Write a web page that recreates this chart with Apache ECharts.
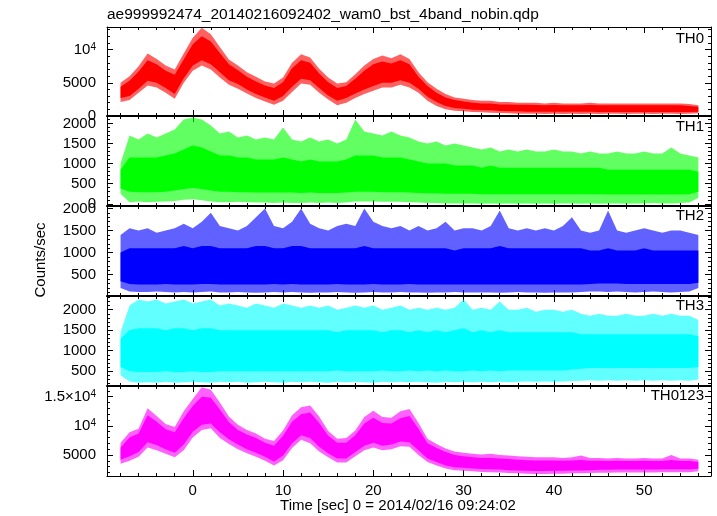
<!DOCTYPE html>
<html><head><meta charset="utf-8">
<script src="https://cdn.jsdelivr.net/npm/echarts@6/dist/echarts.min.js"></script>
<style>html,body{margin:0;padding:0;background:#fff}#c{width:717px;height:516px}</style>
</head><body><div id="c"></div>
<script>
// ---- data (envelope of the light curves, 1 s steps) ----
const times = [-8,-7,-6,-5,-4,-3,-2,-1,0,1, 2,3,4,5,6,7,8,9,10,11, 12,13,14,15,16,17,18,19,20,21,
  22,23,24,25,26,27,28,29,30,31, 32,33,34,35,36,37,38,39,40,41, 42,43,44,45,46,47,48,49,50,51, 52,53,54,55,56];
const panelNames = ['TH0','TH1','TH2','TH3','TH0123'];

const th0Hi = [5000,6000,7500,9400,8600,7600,7000,9400,11800,13300, 12300,10400,8500,7600,6600,5900,5200,4900,5800,8000,
  9300,8800,7100,5800,4900,5100,6300,7600,8600,9100, 8700,9300,8600,6600,5100,4100,3300,2800,2600,2400,
  2300,2300,2100,2100,2000,2000,2000,1900,2000,1900, 1900,1900,2000,1900,1900,1900,1900,1900,1900,1900, 1900,1900,1900,1800,1600];
const th0CoreHi = [4400,5300,6700,8400,7800,6800,6200,8500,10800,12000, 11200,9500,7800,6900,5900,5200,4600,4200,5100,7200,
  8400,8000,6400,5100,4200,4500,5600,6800,7800,8200, 7900,8400,7800,5900,4500,3500,2800,2400,2200,2000,
  1900,1900,1750,1750,1700,1700,1650,1600,1650,1600, 1600,1600,1650,1600,1600,1600,1600,1600,1600,1600, 1600,1600,1600,1500,1400];
const th0CoreLo = [2700,3000,4100,5300,5000,4200,3300,5700,7600,8400, 7800,6600,5400,4800,4000,3300,2800,2300,3000,4400,
  5600,5400,4200,3100,2300,2700,3400,4000,4500,5000, 5000,5400,5000,4100,2900,2100,1500,1200,1100,950,
  900,850,750,700,700,650,650,650,650,650, 650,650,650,600,600,600,600,600,600,600, 600,600,600,600,650];
const th0Lo = [2100,2400,3500,4600,4300,3500,2600,5000,6800,7600, 7000,5800,4700,4100,3400,2700,2200,1700,2300,3600,
  4900,4700,3500,2500,1600,2000,2700,3300,3800,4300, 4300,4700,4300,3500,2300,1500,1000,800,700,600,
  550,500,450,400,350,350,350,300,350,300, 350,300,350,300,350,350,300,350,350,300, 350,350,300,350,400];

const th1Hi = [1000,1700,1600,1750,1650,1750,1850,2100,2150,2100, 1950,1750,1800,1650,1700,1600,1650,1600,1900,1600,
  1550,1650,1550,1600,1500,1600,2100,1800,1750,1700, 1800,1700,1650,1550,1500,1550,1450,1500,1450,1400,
  1350,1400,1300,1350,1300,1350,1300,1300,1350,1300, 1300,1250,1300,1250,1250,1300,1250,1250,1300,1250, 1250,1400,1250,1200,1150];
const th1CoreHi = [850,1150,1150,1150,1150,1200,1250,1350,1450,1400, 1300,1200,1200,1150,1150,1100,1100,1100,1150,1100,
  1050,1100,1050,1050,1050,1100,1200,1200,1200,1150, 1150,1150,1100,1050,1000,1000,1000,950,950,950,
  900,950,900,900,900,900,900,900,900,900, 900,900,900,900,850,850,850,850,850,850, 850,850,850,850,800];
const th1CoreLo = [380,300,290,290,290,300,330,370,390,370, 330,300,300,290,290,280,280,280,280,280,
  270,280,270,270,270,280,300,300,300,290, 290,290,280,270,260,260,250,250,250,250,
  240,240,240,240,240,240,240,240,240,240, 240,240,240,240,230,230,230,230,230,230, 230,230,230,240,300];
const th1Lo = [250,40,60,40,50,60,70,100,110,90, 60,40,40,50,40,30,30,20,30,20,
  20,30,20,30,20,30,60,60,60,50, 50,50,40,30,20,20,10,10,10,10,
  0,10,0,10,0,10,0,10,0,10, 10,0,10,0,10,10,0,10,10,20, 10,10,20,30,150];

const th2Hi = [1400,1550,1500,1550,1450,1500,1550,1650,1550,1700, 1900,1600,1550,1500,1600,1800,2000,1600,1550,1700,
  2000,1650,1550,1500,1600,1650,1600,2000,1700,1600, 1550,1600,1500,1600,1500,1550,1700,1500,1550,1550,
  1500,1600,1950,1550,1500,1550,1500,1550,1500,1600, 1800,1500,1450,1500,1950,1500,1450,1500,1550,1500, 1450,1500,1500,1450,1400];
const th2CoreHi = [1000,1100,1100,1100,1100,1100,1100,1150,1100,1150, 1150,1100,1100,1100,1100,1150,1150,1100,1100,1150,
  1150,1100,1100,1100,1100,1100,1100,1150,1100,1100, 1100,1100,1100,1100,1100,1100,1100,1050,1100,1100,
  1100,1100,1150,1100,1100,1100,1100,1100,1100,1100, 1100,1100,1050,1050,1100,1050,1050,1050,1100,1050, 1050,1050,1050,1050,1050];
const th2CoreLo = [350,290,280,280,280,290,280,280,280,290, 290,280,280,280,280,280,280,290,280,290,
  280,280,280,280,290,280,280,280,290,280, 280,280,290,280,280,280,280,280,280,280,
  280,280,280,280,280,280,280,280,280,280, 280,280,290,300,300,300,290,290,290,290, 290,290,290,290,320];
const th2Lo = [200,120,110,110,120,110,100,110,100,110, 120,100,100,110,100,90,100,110,100,110,
  100,90,100,100,110,100,90,100,110,100, 100,110,100,100,90,100,100,110,100,100,
  100,100,90,100,110,100,100,90,100,100, 100,110,120,120,110,120,110,100,110,120, 110,100,110,120,200];

const th3Hi = [1450,2100,2250,2200,2250,2150,2200,2250,2150,2200, 2250,2100,2150,2100,2050,2150,2100,2050,2150,2100,
  2050,2100,2050,2100,2000,2050,2100,2050,2100,2000, 2050,2100,2000,2050,2000,2050,2000,2050,2250,2000,
  2050,2000,2200,2000,2000,2050,1950,2000,2000,1950, 2000,1900,1850,1900,1850,1850,1900,1850,1850,1900, 1850,1900,1850,1850,1750];
const th3CoreHi = [1300,1500,1550,1550,1550,1500,1550,1550,1500,1550, 1550,1500,1500,1500,1500,1500,1500,1500,1500,1500,
  1500,1500,1500,1500,1450,1500,1500,1500,1500,1450, 1500,1500,1450,1500,1450,1500,1450,1500,1550,1450,
  1500,1450,1500,1450,1450,1450,1450,1450,1450,1450, 1450,1400,1400,1400,1400,1400,1400,1400,1400,1400, 1400,1400,1400,1400,1350];
const th3CoreLo = [600,500,480,480,480,500,480,480,500,480, 480,500,500,500,500,500,500,500,500,500,
  500,500,500,500,520,500,500,500,500,520, 500,500,520,500,520,500,520,500,500,520,
  500,520,500,520,520,520,520,520,520,520, 540,560,580,580,580,580,580,580,580,580, 580,580,580,580,600];
const th3Lo = [400,250,220,230,220,240,220,230,240,230, 220,240,230,240,220,230,240,230,220,240,
  230,240,230,220,240,230,240,230,220,240, 230,240,230,240,230,220,240,230,240,230,
  240,230,240,230,240,250,240,250,240,250, 260,270,280,270,280,270,280,270,280,270, 280,270,280,270,300];

const th0123Hi = [7100,8900,9500,13000,11700,10300,9800,12500,14600,16600, 16200,14000,11600,10200,9300,8700,7800,7400,9200,11800,
  13200,13500,11600,9100,7800,7900,9200,11500,12600,11500, 11400,12500,12900,10500,7800,6900,6100,5600,5400,5200,
  5100,5200,5000,4900,4800,4700,4600,4600,4600,4500, 4600,4900,4500,4500,4400,4500,4400,4400,4500,4400, 4400,5000,4400,4400,4200];
const th0123CoreHi = [6300,8000,8700,11800,10700,9400,8900,11300,13400,15000, 14800,12800,10600,9300,8500,7900,7100,6600,8300,10700,
  12000,12300,10500,8300,7100,7100,8400,10400,11400,10500, 10400,11300,11700,9500,7000,6200,5500,5000,4800,4600,
  4500,4500,4400,4300,4200,4100,4050,4050,4050,4000, 4050,4150,4000,4000,3950,4000,3950,3950,4000,3950, 3950,4150,3950,3950,3800];
const th0123CoreLo = [4200,4800,5500,7200,6700,6000,5400,6800,9000,10200, 10400,8900,7700,6800,6000,5400,4700,3900,4900,7000,
  8400,7900,6400,5300,4400,4400,5500,6600,7100,6600, 6800,7300,7200,5800,4400,3800,3200,2900,2800,2700,
  2600,2550,2500,2400,2350,2300,2250,2250,2300,2300, 2350,2350,2400,2450,2450,2500,2500,2500,2500,2500, 2550,2550,2550,2550,2650];
const th0123Lo = [3500,4000,4700,6300,5800,5200,4600,5800,8000,9300, 9600,7900,6900,6000,5300,4700,4000,3200,4100,6200,
  7600,7000,5600,4600,3700,3700,4800,5800,6300,5800, 6000,6500,6400,5000,3800,3200,2700,2400,2300,2200,
  2100,2050,2000,1900,1850,1800,1750,1750,1800,1800, 1850,1850,1900,1950,1950,2000,2000,2000,2000,2000, 2050,2050,2050,2050,2200];

const xMajorTicks = [0,10,20,30,40,50];
const yMajorTicks = [[0,5000,10000],[0,500,1000,1500,2000],[500,1000,1500,2000],[500,1000,1500,2000],[5000,10000,15000]];
const titleText = 'ae999992474_20140216092402_wam0_bst_4band_nobin.qdp';
const xTitle = 'Time [sec] 0 = 2014/02/16 09:24:02';
const yTitle = 'Counts/sec';

// ---- layout / style ----
const FONT = 'Liberation Sans';
const colors = ['#ff0000','#00ff00','#0000ff','#00ffff','#ff00ff'];
const bands = [
  [th0Hi, th0CoreHi, th0CoreLo, th0Lo],
  [th1Hi, th1CoreHi, th1CoreLo, th1Lo],
  [th2Hi, th2CoreHi, th2CoreLo, th2Lo],
  [th3Hi, th3CoreHi, th3CoreLo, th3Lo],
  [th0123Hi, th0123CoreHi, th0123CoreLo, th0123Lo]
];
const gridTops = [27,116,206,296,386];
const gridHeights = [89,90,90,90,90];
const yRanges = [[0,13400],[-55,2185],[18,2054],[139,2334],[1398,16835]];
const yMinorStep = [1000,100,100,100,1000];
const X_MIN = -9.5, X_MAX = 57.4;

const xMinorTicks = [];
for (let v = -8; v <= 56; v += 2) if (v % 10 !== 0) xMinorTicks.push(v);

function minorList(range, step, majors) {
  const out = [];
  for (let v = Math.ceil(range[0] / step) * step; v <= range[1]; v += step)
    if (majors.indexOf(v) < 0) out.push(v);
  return out;
}
function yFmt(v) {
  if (v === 10000) return '10{s|4}';
  if (v === 15000) return '1.5×10{s|4}';
  return String(v);
}
const tickStyle = {color:'#000', width:1};
const grids = [], xAxes = [], yAxes = [], series = [];

for (let i = 0; i < 5; i++) {
  grids.push({left:107, width:604, top:gridTops[i], height:gridHeights[i]});
  const base = {gridIndex:i, type:'value', min:X_MIN, max:X_MAX, splitLine:{show:false}, axisPointer:{show:false}};
  const lineW = (i < 4) ? 2 : 1;
  xAxes.push(Object.assign({}, base, {position:'bottom',
    axisLine:{show:true, onZero:false, lineStyle:{color:'#000', width:lineW}},
    axisTick:{show:true, inside:true, length:6, customValues:xMajorTicks, lineStyle:tickStyle},
    axisLabel:{show:i===4, customValues:xMajorTicks, margin:7, fontFamily:FONT, fontSize:15, color:'#000'}}));
  xAxes.push(Object.assign({}, base, {position:'bottom',
    axisLine:{show:false, onZero:false},
    axisTick:{show:true, inside:true, length:3, customValues:xMinorTicks, lineStyle:tickStyle},
    axisLabel:{show:false}}));
  xAxes.push(Object.assign({}, base, {position:'top',
    axisLine:{show:true, onZero:false, lineStyle:{color:'#000', width:1}},
    axisTick:{show:true, inside:true, length:6, customValues:xMajorTicks, lineStyle:tickStyle},
    axisLabel:{show:false}}));
  xAxes.push(Object.assign({}, base, {position:'top',
    axisLine:{show:false, onZero:false},
    axisTick:{show:true, inside:true, length:3, customValues:xMinorTicks, lineStyle:tickStyle},
    axisLabel:{show:false}}));

  const yb = {gridIndex:i, type:'value', min:yRanges[i][0], max:yRanges[i][1], splitLine:{show:false}, axisPointer:{show:false}};
  const minors = minorList(yRanges[i], yMinorStep[i], yMajorTicks[i]);
  yAxes.push(Object.assign({}, yb, {position:'left',
    axisLine:{show:true, onZero:false, lineStyle:{color:'#000', width:1}},
    axisTick:{show:true, inside:true, length:6, customValues:yMajorTicks[i], lineStyle:tickStyle},
    axisLabel:{show:true, customValues:yMajorTicks[i], margin:11, formatter:yFmt, fontFamily:FONT, fontSize:15, color:'#000',
      rich:{s:{fontSize:10, fontFamily:FONT, color:'#000', verticalAlign:'top', padding:[0,0,4,0]}}}}));
  yAxes.push(Object.assign({}, yb, {position:'left',
    axisLine:{show:false, onZero:false},
    axisTick:{show:true, inside:true, length:3, customValues:minors, lineStyle:tickStyle},
    axisLabel:{show:false}}));
  yAxes.push(Object.assign({}, yb, {position:'right',
    axisLine:{show:true, onZero:false, lineStyle:{color:'#000', width:1}},
    axisTick:{show:true, inside:true, length:6, customValues:yMajorTicks[i], lineStyle:tickStyle},
    axisLabel:{show:false}}));
  yAxes.push(Object.assign({}, yb, {position:'right',
    axisLine:{show:false, onZero:false},
    axisTick:{show:true, inside:true, length:3, customValues:minors, lineStyle:tickStyle},
    axisLabel:{show:false}}));

  const [hi, cHi, cLo, lo] = bands[i];
  const mk = (up, dn, opacity) => ({
    type:'custom', name:panelNames[i], xAxisIndex:4*i, yAxisIndex:4*i, silent:true, clip:true, animation:false,
    data:[[times[0], dn[0]]],
    renderItem: function (params, api) {
      const pts = [];
      for (let k = 0; k < times.length; k++) pts.push(api.coord([times[k], up[k]]));
      for (let k = times.length - 1; k >= 0; k--) pts.push(api.coord([times[k], dn[k]]));
      return {type:'polygon', shape:{points:pts}, style:{fill:colors[i], opacity:opacity}};
    }
  });
  series.push(mk(hi, lo, 0.62));
  series.push(mk(cHi, cLo, 1));
}

const txt = (x, y, text, align, extra) => Object.assign({type:'text', x:x, y:y, silent:true,
  style:{text:text, fill:'#000', font:'15px "' + FONT + '"', textAlign:align, textVerticalAlign:'middle'}}, extra || {});
const graphic = [
  txt(107, 15, titleText, 'left', {style:{text:titleText, fill:'#000', font:'15.5px "' + FONT + '"', textAlign:'left', textVerticalAlign:'middle'}}),
  txt(398, 506, xTitle, 'center'),
  txt(41, 260, yTitle, 'center', {rotation:Math.PI/2}),
  txt(704, 39, panelNames[0], 'right'),
  txt(704, 127, panelNames[1], 'right'),
  txt(704, 216, panelNames[2], 'right'),
  txt(704, 306, panelNames[3], 'right'),
  txt(704, 396, panelNames[4], 'right')
];

const chart = echarts.init(document.getElementById('c'), null, {renderer:'canvas'});
chart.setOption({
  animation:false,
  backgroundColor:'#fff',
  grid:grids, xAxis:xAxes, yAxis:yAxes, series:series, graphic:graphic
});
</script></body></html>
